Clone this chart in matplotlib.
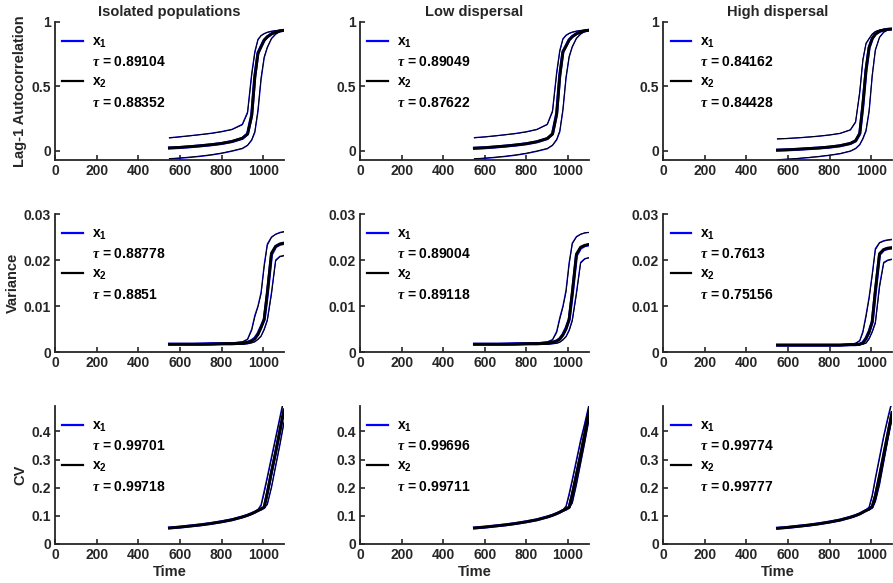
import matplotlib
matplotlib.use('Agg')
import matplotlib.pyplot as plt
from matplotlib.lines import Line2D
from matplotlib.ticker import FormatStrFormatter

# time axis shared by every curve
time = [550, 600, 650, 700, 750, 800, 850, 900, 925, 945, 960, 975, 990, 1005, 1020, 1040, 1060, 1080, 1100]

# ---- Lag-1 autocorrelation (hi / mid / lo for x1 and x2) ----
ac_iso_x1_hi = [0.100, 0.108, 0.116, 0.125, 0.135, 0.148, 0.165, 0.205, 0.300, 0.600, 0.770, 0.865, 0.895, 0.910, 0.920, 0.928, 0.933, 0.936, 0.938]
ac_iso_x1_mid = [0.020, 0.024, 0.030, 0.037, 0.045, 0.055, 0.070, 0.095, 0.130, 0.280, 0.580, 0.760, 0.810, 0.860, 0.885, 0.908, 0.922, 0.930, 0.935]
ac_iso_x1_lo = [-0.065, -0.060, -0.053, -0.045, -0.035, -0.022, -0.005, 0.015, 0.040, 0.080, 0.140, 0.300, 0.550, 0.720, 0.800, 0.870, 0.905, 0.925, 0.935]
ac_iso_x2_hi = [0.098, 0.106, 0.115, 0.124, 0.133, 0.146, 0.163, 0.200, 0.290, 0.585, 0.760, 0.860, 0.893, 0.908, 0.919, 0.927, 0.932, 0.936, 0.938]
ac_iso_x2_mid = [0.021, 0.025, 0.031, 0.038, 0.046, 0.056, 0.071, 0.096, 0.128, 0.270, 0.570, 0.755, 0.808, 0.858, 0.884, 0.907, 0.921, 0.930, 0.935]
ac_iso_x2_lo = [-0.062, -0.057, -0.050, -0.042, -0.032, -0.019, -0.002, 0.018, 0.042, 0.085, 0.150, 0.320, 0.570, 0.730, 0.805, 0.872, 0.906, 0.925, 0.935]

ac_low_x1_hi = [0.101, 0.107, 0.115, 0.124, 0.134, 0.147, 0.165, 0.205, 0.310, 0.610, 0.780, 0.870, 0.897, 0.912, 0.921, 0.929, 0.934, 0.937, 0.939]
ac_low_x1_mid = [0.018, 0.022, 0.028, 0.035, 0.043, 0.053, 0.068, 0.093, 0.130, 0.290, 0.590, 0.770, 0.815, 0.862, 0.887, 0.909, 0.923, 0.931, 0.936]
ac_low_x1_lo = [-0.066, -0.061, -0.054, -0.046, -0.036, -0.023, -0.006, 0.014, 0.040, 0.082, 0.145, 0.310, 0.560, 0.725, 0.805, 0.872, 0.906, 0.926, 0.936]
ac_low_x2_hi = [0.099, 0.106, 0.114, 0.123, 0.132, 0.145, 0.163, 0.202, 0.300, 0.595, 0.770, 0.865, 0.895, 0.910, 0.920, 0.928, 0.933, 0.937, 0.939]
ac_low_x2_mid = [0.019, 0.023, 0.029, 0.036, 0.044, 0.054, 0.069, 0.094, 0.128, 0.280, 0.580, 0.765, 0.812, 0.860, 0.886, 0.908, 0.922, 0.931, 0.936]
ac_low_x2_lo = [-0.063, -0.058, -0.051, -0.043, -0.033, -0.020, -0.003, 0.017, 0.043, 0.088, 0.155, 0.325, 0.575, 0.735, 0.810, 0.874, 0.907, 0.926, 0.936]

ac_high_x1_hi = [0.090, 0.094, 0.099, 0.105, 0.112, 0.121, 0.133, 0.160, 0.220, 0.450, 0.700, 0.830, 0.870, 0.905, 0.925, 0.937, 0.942, 0.945, 0.946]
ac_high_x1_mid = [0.003, 0.006, 0.010, 0.015, 0.020, 0.027, 0.037, 0.055, 0.075, 0.130, 0.350, 0.620, 0.800, 0.870, 0.905, 0.927, 0.938, 0.943, 0.945]
ac_high_x1_lo = [-0.072, -0.068, -0.062, -0.055, -0.047, -0.037, -0.025, -0.005, 0.015, 0.045, 0.090, 0.150, 0.300, 0.580, 0.780, 0.880, 0.920, 0.938, 0.945]
ac_high_x2_hi = [0.092, 0.095, 0.100, 0.106, 0.113, 0.122, 0.134, 0.162, 0.225, 0.460, 0.710, 0.835, 0.872, 0.906, 0.926, 0.937, 0.942, 0.945, 0.946]
ac_high_x2_mid = [0.004, 0.007, 0.011, 0.016, 0.021, 0.028, 0.038, 0.056, 0.077, 0.135, 0.360, 0.630, 0.805, 0.872, 0.906, 0.928, 0.938, 0.943, 0.945]
ac_high_x2_lo = [-0.070, -0.066, -0.060, -0.053, -0.045, -0.035, -0.023, -0.003, 0.017, 0.048, 0.095, 0.160, 0.315, 0.590, 0.785, 0.882, 0.921, 0.938, 0.945]

# ---- Variance ----
var_iso_x1_hi = [0.0018, 0.0018, 0.0018, 0.0019, 0.0019, 0.0019, 0.0020, 0.0022, 0.0028, 0.0050, 0.0080, 0.0100, 0.0130, 0.0190, 0.0235, 0.0250, 0.0256, 0.0260, 0.0262]
var_iso_x1_mid = [0.0017, 0.0017, 0.0017, 0.0017, 0.0018, 0.0018, 0.0018, 0.0019, 0.0021, 0.0025, 0.0030, 0.0040, 0.0055, 0.0070, 0.0125, 0.0212, 0.0229, 0.0234, 0.0236]
var_iso_x1_lo = [0.0016, 0.0016, 0.0016, 0.0016, 0.0016, 0.0017, 0.0017, 0.0017, 0.0018, 0.0020, 0.0023, 0.0028, 0.0035, 0.0050, 0.0070, 0.0130, 0.0200, 0.0208, 0.0210]
var_iso_x2_hi = [0.0018, 0.0018, 0.0018, 0.0018, 0.0019, 0.0019, 0.0020, 0.0022, 0.0027, 0.0047, 0.0076, 0.0098, 0.0126, 0.0185, 0.0232, 0.0249, 0.0256, 0.0259, 0.0261]
var_iso_x2_mid = [0.0017, 0.0017, 0.0017, 0.0017, 0.0017, 0.0018, 0.0018, 0.0019, 0.0021, 0.0024, 0.0029, 0.0038, 0.0053, 0.0072, 0.0130, 0.0215, 0.0230, 0.0235, 0.0237]
var_iso_x2_lo = [0.0016, 0.0016, 0.0016, 0.0016, 0.0016, 0.0016, 0.0017, 0.0017, 0.0018, 0.0020, 0.0022, 0.0027, 0.0034, 0.0048, 0.0068, 0.0125, 0.0198, 0.0207, 0.0209]

var_low_x1_hi = [0.0018, 0.0018, 0.0018, 0.0019, 0.0019, 0.0019, 0.0020, 0.0022, 0.0027, 0.0045, 0.0075, 0.0100, 0.0135, 0.0195, 0.0237, 0.0251, 0.0256, 0.0259, 0.0260]
var_low_x1_mid = [0.0017, 0.0017, 0.0017, 0.0017, 0.0018, 0.0018, 0.0018, 0.0019, 0.0021, 0.0024, 0.0029, 0.0038, 0.0052, 0.0070, 0.0125, 0.0210, 0.0226, 0.0231, 0.0233]
var_low_x1_lo = [0.0016, 0.0016, 0.0016, 0.0016, 0.0016, 0.0017, 0.0017, 0.0017, 0.0018, 0.0019, 0.0022, 0.0027, 0.0034, 0.0048, 0.0070, 0.0130, 0.0195, 0.0203, 0.0205]
var_low_x2_hi = [0.0018, 0.0018, 0.0018, 0.0018, 0.0019, 0.0019, 0.0020, 0.0022, 0.0026, 0.0042, 0.0071, 0.0097, 0.0130, 0.0190, 0.0235, 0.0250, 0.0256, 0.0259, 0.0260]
var_low_x2_mid = [0.0017, 0.0017, 0.0017, 0.0017, 0.0017, 0.0018, 0.0018, 0.0019, 0.0021, 0.0024, 0.0028, 0.0037, 0.0050, 0.0072, 0.0130, 0.0213, 0.0228, 0.0232, 0.0234]
var_low_x2_lo = [0.0016, 0.0016, 0.0016, 0.0016, 0.0016, 0.0016, 0.0017, 0.0017, 0.0018, 0.0019, 0.0021, 0.0026, 0.0033, 0.0046, 0.0067, 0.0125, 0.0193, 0.0202, 0.0205]

var_high_x1_hi = [0.0015, 0.0015, 0.0015, 0.0015, 0.0015, 0.0016, 0.0016, 0.0017, 0.0019, 0.0025, 0.0045, 0.0080, 0.0120, 0.0170, 0.0225, 0.0238, 0.0242, 0.0244, 0.0245]
var_high_x1_mid = [0.0015, 0.0015, 0.0015, 0.0015, 0.0015, 0.0015, 0.0015, 0.0016, 0.0016, 0.0017, 0.0020, 0.0030, 0.0045, 0.0065, 0.0130, 0.0212, 0.0222, 0.0225, 0.0226]
var_high_x1_lo = [0.0014, 0.0014, 0.0014, 0.0014, 0.0014, 0.0014, 0.0014, 0.0015, 0.0015, 0.0016, 0.0017, 0.0020, 0.0030, 0.0045, 0.0065, 0.0145, 0.0195, 0.0200, 0.0202]
var_high_x2_hi = [0.0015, 0.0015, 0.0015, 0.0015, 0.0015, 0.0016, 0.0016, 0.0017, 0.0019, 0.0024, 0.0042, 0.0076, 0.0116, 0.0166, 0.0222, 0.0237, 0.0241, 0.0243, 0.0244]
var_high_x2_mid = [0.0015, 0.0015, 0.0015, 0.0015, 0.0015, 0.0015, 0.0015, 0.0016, 0.0016, 0.0017, 0.0020, 0.0029, 0.0043, 0.0067, 0.0135, 0.0214, 0.0223, 0.0226, 0.0227]
var_high_x2_lo = [0.0014, 0.0014, 0.0014, 0.0014, 0.0014, 0.0014, 0.0014, 0.0015, 0.0015, 0.0016, 0.0017, 0.0019, 0.0028, 0.0043, 0.0062, 0.0140, 0.0193, 0.0199, 0.0201]

# ---- Coefficient of variation ----
cv_iso_x1_hi = [0.057, 0.060, 0.064, 0.068, 0.073, 0.079, 0.086, 0.096, 0.103, 0.109, 0.115, 0.122, 0.140, 0.190, 0.240, 0.310, 0.380, 0.450, 0.520]
cv_iso_x1_mid = [0.057, 0.060, 0.064, 0.068, 0.073, 0.079, 0.086, 0.096, 0.102, 0.108, 0.113, 0.119, 0.124, 0.130, 0.180, 0.255, 0.325, 0.400, 0.475]
cv_iso_x1_lo = [0.056, 0.059, 0.063, 0.067, 0.072, 0.078, 0.085, 0.095, 0.101, 0.107, 0.112, 0.117, 0.122, 0.128, 0.140, 0.200, 0.275, 0.350, 0.430]
cv_iso_x2_hi = [0.057, 0.060, 0.064, 0.068, 0.073, 0.079, 0.086, 0.096, 0.103, 0.109, 0.114, 0.121, 0.134, 0.180, 0.232, 0.302, 0.372, 0.442, 0.512]
cv_iso_x2_mid = [0.057, 0.060, 0.064, 0.068, 0.073, 0.079, 0.086, 0.096, 0.102, 0.108, 0.113, 0.119, 0.124, 0.131, 0.182, 0.256, 0.326, 0.401, 0.476]
cv_iso_x2_lo = [0.056, 0.059, 0.063, 0.067, 0.072, 0.078, 0.085, 0.095, 0.101, 0.107, 0.112, 0.117, 0.122, 0.128, 0.142, 0.203, 0.278, 0.353, 0.433]

cv_low_x1_hi = [0.057, 0.060, 0.064, 0.068, 0.073, 0.079, 0.086, 0.096, 0.103, 0.109, 0.115, 0.121, 0.135, 0.180, 0.230, 0.300, 0.370, 0.430, 0.495]
cv_low_x1_mid = [0.057, 0.060, 0.064, 0.068, 0.073, 0.079, 0.086, 0.096, 0.102, 0.108, 0.113, 0.119, 0.124, 0.130, 0.175, 0.245, 0.315, 0.390, 0.470]
cv_low_x1_lo = [0.056, 0.059, 0.063, 0.067, 0.072, 0.078, 0.085, 0.095, 0.101, 0.107, 0.112, 0.117, 0.122, 0.128, 0.145, 0.210, 0.285, 0.360, 0.440]
cv_low_x2_hi = [0.057, 0.060, 0.064, 0.068, 0.073, 0.079, 0.086, 0.096, 0.103, 0.109, 0.114, 0.120, 0.131, 0.172, 0.222, 0.292, 0.362, 0.424, 0.488]
cv_low_x2_mid = [0.057, 0.060, 0.064, 0.068, 0.073, 0.079, 0.086, 0.096, 0.102, 0.108, 0.113, 0.119, 0.124, 0.131, 0.177, 0.247, 0.317, 0.391, 0.471]
cv_low_x2_lo = [0.056, 0.059, 0.063, 0.067, 0.072, 0.078, 0.085, 0.095, 0.101, 0.107, 0.112, 0.117, 0.122, 0.128, 0.147, 0.213, 0.288, 0.362, 0.442]

cv_high_x1_hi = [0.056, 0.059, 0.063, 0.067, 0.072, 0.078, 0.085, 0.095, 0.102, 0.108, 0.114, 0.120, 0.132, 0.175, 0.235, 0.310, 0.385, 0.450, 0.510]
cv_high_x1_mid = [0.056, 0.059, 0.063, 0.067, 0.072, 0.078, 0.085, 0.095, 0.101, 0.107, 0.113, 0.119, 0.124, 0.132, 0.170, 0.240, 0.315, 0.390, 0.465]
cv_high_x1_lo = [0.055, 0.058, 0.062, 0.066, 0.071, 0.077, 0.084, 0.094, 0.100, 0.106, 0.112, 0.118, 0.122, 0.128, 0.150, 0.210, 0.290, 0.370, 0.445]
cv_high_x2_hi = [0.056, 0.059, 0.063, 0.067, 0.072, 0.078, 0.085, 0.095, 0.102, 0.108, 0.113, 0.119, 0.129, 0.168, 0.228, 0.303, 0.378, 0.443, 0.503]
cv_high_x2_mid = [0.056, 0.059, 0.063, 0.067, 0.072, 0.078, 0.085, 0.095, 0.101, 0.107, 0.113, 0.119, 0.124, 0.133, 0.172, 0.242, 0.317, 0.392, 0.467]
cv_high_x2_lo = [0.055, 0.058, 0.062, 0.066, 0.071, 0.077, 0.084, 0.094, 0.100, 0.106, 0.112, 0.118, 0.122, 0.128, 0.152, 0.213, 0.293, 0.372, 0.447]

# Kendall tau printed in each legend
tau_ac = [('0.89104', '0.88352'), ('0.89049', '0.87622'), ('0.84162', '0.84428')]
tau_var = [('0.88778', '0.8851'), ('0.89004', '0.89118'), ('0.7613', '0.75156')]
tau_cv = [('0.99701', '0.99718'), ('0.99696', '0.99711'), ('0.99774', '0.99777')]

col_titles = ['Isolated populations', 'Low dispersal', 'High dispersal']
row_labels = ['Lag-1 Autocorrelation', 'Variance', 'CV']
row_ylims = [(-0.073, 1.0), (0, 0.03), (0, 0.49)]
row_yticks = [[0, 0.5, 1], [0, 0.01, 0.02, 0.03], [0, 0.1, 0.2, 0.3, 0.4]]
xticks = [0, 200, 400, 600, 800, 1000]

series = [
    [((ac_iso_x1_hi, ac_iso_x1_mid, ac_iso_x1_lo), (ac_iso_x2_hi, ac_iso_x2_mid, ac_iso_x2_lo)),
     ((ac_low_x1_hi, ac_low_x1_mid, ac_low_x1_lo), (ac_low_x2_hi, ac_low_x2_mid, ac_low_x2_lo)),
     ((ac_high_x1_hi, ac_high_x1_mid, ac_high_x1_lo), (ac_high_x2_hi, ac_high_x2_mid, ac_high_x2_lo))],
    [((var_iso_x1_hi, var_iso_x1_mid, var_iso_x1_lo), (var_iso_x2_hi, var_iso_x2_mid, var_iso_x2_lo)),
     ((var_low_x1_hi, var_low_x1_mid, var_low_x1_lo), (var_low_x2_hi, var_low_x2_mid, var_low_x2_lo)),
     ((var_high_x1_hi, var_high_x1_mid, var_high_x1_lo), (var_high_x2_hi, var_high_x2_mid, var_high_x2_lo))],
    [((cv_iso_x1_hi, cv_iso_x1_mid, cv_iso_x1_lo), (cv_iso_x2_hi, cv_iso_x2_mid, cv_iso_x2_lo)),
     ((cv_low_x1_hi, cv_low_x1_mid, cv_low_x1_lo), (cv_low_x2_hi, cv_low_x2_mid, cv_low_x2_lo)),
     ((cv_high_x1_hi, cv_high_x1_mid, cv_high_x1_lo), (cv_high_x2_hi, cv_high_x2_mid, cv_high_x2_lo))],
]
taus = [tau_ac, tau_var, tau_cv]

plt.rcParams['font.family'] = ['Liberation Sans', 'DejaVu Sans']
plt.rcParams['font.weight'] = 'bold'
plt.rcParams['axes.labelweight'] = 'bold'
plt.rcParams['axes.titleweight'] = 'bold'
plt.rcParams['mathtext.fontset'] = 'custom'
plt.rcParams['mathtext.bf'] = 'Liberation Sans:bold'
plt.rcParams['mathtext.rm'] = 'Liberation Sans:bold'
plt.rcParams['mathtext.it'] = 'Liberation Serif:italic'

blue = '#0000ff'
axcol = '#262626'

fig = plt.figure(figsize=(8.93, 5.83), dpi=100)
lefts = [0.0616, 0.4031, 0.7425]
bottoms = [0.7256, 0.3962, 0.0669]
w, h = 0.2564, 0.2367

for r in range(3):
    for c in range(3):
        ax = fig.add_axes([lefts[c], bottoms[r], w, h])
        x1, x2 = series[r][c]
        for ys, lw in zip(x1, (0.9, 2.2, 0.9)):
            ax.plot(time, ys, color=blue, lw=lw)
        for ys, lw in zip(x2, (0.7, 2.0, 0.7)):
            ax.plot(time, ys, color='k', lw=lw)

        ax.set_xlim(0, 1100)
        ax.set_ylim(*row_ylims[r])
        ax.set_xticks(xticks)
        ax.set_yticks(row_yticks[r])
        ax.yaxis.set_major_formatter(FormatStrFormatter('%g'))
        for s in ('top', 'right'):
            ax.spines[s].set_visible(False)
        for s in ('left', 'bottom'):
            ax.spines[s].set_linewidth(1.3)
            ax.spines[s].set_color(axcol)
        ax.tick_params(direction='in', length=3.5, width=1.2, labelsize=10,
                       colors=axcol, labelcolor=axcol, pad=3)
        for lab in ax.get_xticklabels() + ax.get_yticklabels():
            lab.set_fontweight('bold')

        if r == 0:
            ax.set_title(col_titles[c], fontsize=10.5, pad=4, color=axcol)
        if c == 0:
            ax.set_ylabel(row_labels[r], fontsize=10.5, color=axcol, labelpad=3)
        if r == 2:
            ax.set_xlabel('Time', fontsize=10.5, color=axcol, labelpad=2)

        t1, t2 = taus[r][c]
        handles = [Line2D([], [], color=blue, lw=1.6), Line2D([], [], color='none'),
                   Line2D([], [], color='k', lw=1.6), Line2D([], [], color='none')]
        labels = [r'$\mathbf{x_1}$', r'$\mathit{\tau}$ = ' + t1,
                  r'$\mathbf{x_2}$', r'$\mathit{\tau}$ = ' + t2]
        ax.legend(handles, labels, loc='upper left', bbox_to_anchor=(-0.022, 1.0),
                  frameon=False, fontsize=10,
                  handlelength=1.5, handletextpad=0.6, labelspacing=0.4,
                  borderaxespad=0.6, borderpad=0.3)

fig.savefig('out.png', dpi=100)
